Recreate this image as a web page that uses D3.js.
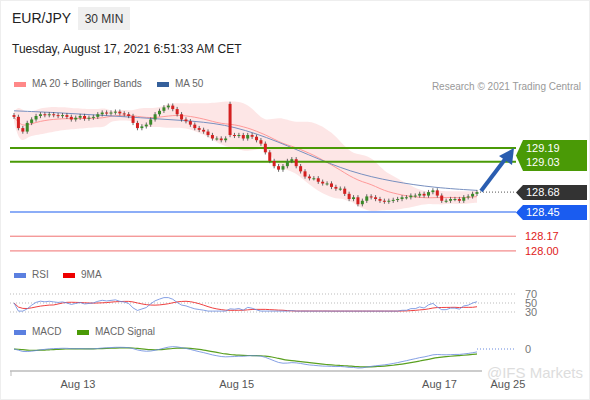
<!DOCTYPE html><html><head><meta charset="utf-8"><script src="https://d3js.org/d3.v7.min.js"></script>
<style>body{margin:0;background:#fff;font-family:"Liberation Sans",Arial,sans-serif}</style></head><body><svg id="c" width="590" height="400"></svg>
<script>
const closes=[129.55,129.42,129.38,129.48,129.52,129.56,129.58,129.57,
129.58,129.57,129.56,129.57,129.55,129.52,129.54,129.56,129.53,129.54,129.55,129.58,129.60,129.59,129.60,129.61,129.59,
129.58,129.56,129.48,129.42,129.44,129.46,
129.52,129.58,129.62,129.66,129.68,129.64,129.58,
129.52,129.50,129.46,129.42,129.40,129.38,129.34,129.30,129.30,129.28,129.30,
129.34,
129.33,129.34,129.30,129.34,129.32,129.28,129.24,129.14,
129.04,128.98,128.94,128.98,129.04,129.06,128.98,
128.92,128.86,128.84,128.84,128.80,128.78,128.78,128.74,128.72,128.72,128.66,128.60,128.62,128.54,
128.58,128.63,128.62,128.60,128.58,128.57,128.58,128.59,128.60,128.62,128.62,128.64,
128.64,128.66,128.64,128.68,128.70,128.64,128.58,
128.58,128.60,128.60,128.58,128.62,128.63,128.66,128.68];
const spikeIndex=49, spikeOpen=129.70;
const ma50=[129.62,129.60,129.57,129.54,129.51,129.47,129.32,129.11,128.91,128.80,128.73,128.70];
const levels=[{v:129.19,c:"#4a9a06",t:"129.19"},{v:129.03,c:"#4a9a06",t:"129.03"},{v:128.45,c:"#1a5cf0",t:"128.45"}];
const redLevels=[128.17,128.00];
const current=128.68;
const dateLabels=[{i:14.5,t:"Aug 13"},{i:50.5,t:"Aug 15"},{i:96.5,t:"Aug 17"},{i:112,t:"Aug 25"}];

const svg=d3.select("#c");
const N=closes.length;
const x=d3.scaleLinear().domain([0,N-1]).range([14,477]);
const y=d3.scaleLinear().domain([128.45,129.19]).range([212,148]);
// header
svg.append("text").attr("x",12).attr("y",23).attr("font-size",14).attr("fill","#222").text("EUR/JPY");
svg.append("rect").attr("x",78).attr("y",7).attr("width",52).attr("height",23).attr("fill","#efefef");
svg.append("text").attr("x",104).attr("y",23).attr("text-anchor","middle").attr("font-size",12).attr("fill","#333").text("30 MIN");
svg.append("text").attr("x",12).attr("y",53).attr("font-size",12).attr("fill","#222").text("Tuesday, August 17, 2021 6:51:33 AM CET");
function legend(xp,yp,col,t){svg.append("rect").attr("x",xp).attr("y",yp-4).attr("width",12).attr("height",5).attr("fill",col);
svg.append("text").attr("x",xp+18).attr("y",yp+1).attr("font-size",10).attr("fill","#666").text(t);}
legend(14,86,"#f88","MA 20 + Bollinger Bands");legend(157,86,"#35609b","MA 50");
svg.append("text").attr("x",581).attr("y",90).attr("text-anchor","end").attr("font-size",10).attr("fill","#999").text("Research © 2021 Trading Central");
// candles OHLC
const opens=closes.map((c,i)=>i==spikeIndex?spikeOpen:(i?closes[i-1]:c+0.02));
// bollinger
const bb=closes.map((c,i)=>{const w=closes.slice(Math.max(0,i-19),i+1);const m=d3.mean(w);const s=d3.deviation(w)||0.03;return{m,u:m+2*Math.max(s,0.03),l:m-2*Math.max(s,0.03)};});
svg.append("path").datum(bb).attr("fill","#fde0e0").attr("opacity",0.8)
 .attr("d",d3.area().x((d,i)=>x(i)).y0(d=>y(d.l)).y1(d=>y(d.u)).curve(d3.curveBasis));
svg.append("path").datum(bb).attr("fill","none").attr("stroke","#f99").attr("stroke-width",1)
 .attr("d",d3.line().x((d,i)=>x(i)).y(d=>y(d.m)).curve(d3.curveBasis));
svg.append("path").datum(ma50).attr("fill","none").attr("stroke","#7890c0").attr("stroke-width",1)
 .attr("d",d3.line().x((d,i)=>x(i*(N-1)/(ma50.length-1))).y(d=>y(d)).curve(d3.curveBasis));
// levels
levels.forEach(l=>svg.append("line").attr("x1",10).attr("x2",516).attr("y1",y(l.v)).attr("y2",y(l.v)).attr("stroke",l.c).attr("stroke-width",l.c=="#4a9a06"?2:1.2));
redLevels.forEach(v=>{svg.append("line").attr("x1",10).attr("x2",516).attr("y1",y(v)).attr("y2",y(v)).attr("stroke","#f07070").attr("stroke-width",1);
svg.append("text").attr("x",525).attr("y",y(v)+4).attr("font-size",11).attr("fill","#e02020").text(v.toFixed(2));});
const g=svg.append("g");
closes.forEach((c,i)=>{const o=opens[i];const hi=Math.max(o,c)+0.025,lo=Math.min(o,c)-0.025;const col=c>=o?"#3a8a2a":"#d42020";
 g.append("line").attr("x1",x(i)).attr("x2",x(i)).attr("y1",y(hi)).attr("y2",y(lo)).attr("stroke","#444").attr("stroke-width",0.8);
 g.append("rect").attr("x",x(i)-1.5).attr("width",3).attr("y",y(Math.max(o,c))).attr("height",Math.max(1,Math.abs(y(o)-y(c)))).attr("fill",col);});
svg.append("line").attr("x1",x(N-1)+3).attr("x2",516).attr("y1",y(current)).attr("y2",y(current)).attr("stroke","#555").attr("stroke-dasharray","1,2");
// label boxes
function tag(y1,y2,col){svg.append("path").attr("d",`M516,${(y1+y2)/2}L523,${y1}H587V${y2}H523Z`).attr("fill",col);}
tag(140,171,"#4a9a06");tag(185,200,"#333");tag(205,220,"#1a5cf0");
[[129.19],[129.03],[128.68],[128.45]].forEach(([v])=>svg.append("text").attr("x",526).attr("y",y(v)+4).attr("font-size",11).attr("fill","#fff").text(v.toFixed(2)));
// arrow
svg.append("line").attr("x1",481).attr("y1",191).attr("x2",506).attr("y2",158).attr("stroke","#2a5db0").attr("stroke-width",4);
svg.append("path").attr("d","M514,148L512,165L499,156Z").attr("fill","#2a5db0");
// RSI
let rsi=[],ag=0,al=0;closes.forEach((c,i)=>{if(i==0){rsi.push(50);return;}const d=c-closes[i-1];const gn=Math.max(d,0),ls=Math.max(-d,0);
 ag=i<14?(ag*(i-1)+gn)/i:(ag*13+gn)/14;al=i<14?(al*(i-1)+ls)/i:(al*13+ls)/14;rsi.push(al==0?60:100-100/(1+ag/al));});
rsi=rsi.map(v=>Math.max(32,Math.min(62,v)));
const rsiMA=rsi.map((v,i)=>d3.mean(rsi.slice(Math.max(0,i-8),i+1)));
const yr=d3.scaleLinear().domain([30,70]).range([312,294]);
legend(14,277,"#5b80e0","RSI");legend(63,277,"#e00","9MA");
[70,50,30].forEach(v=>{svg.append("line").attr("x1",10).attr("x2",516).attr("y1",yr(v)).attr("y2",yr(v)).attr("stroke","#bbb").attr("stroke-dasharray","1,2");
svg.append("text").attr("x",525).attr("y",yr(v)+4).attr("font-size",11).attr("fill","#777").text(v);});
svg.append("path").datum(rsiMA).attr("fill","none").attr("stroke","#f04040").attr("d",d3.line().x((d,i)=>x(i)).y(d=>yr(d)));
svg.append("path").datum(rsi).attr("fill","none").attr("stroke","#6688dd").attr("stroke-width",0.8).attr("d",d3.line().x((d,i)=>x(i)).y(d=>yr(d)));
// MACD
const ema=(a,n)=>{const k=2/(n+1);let e=a[0];return a.map(v=>e=v*k+e*(1-k));};
const e12=ema(closes,12),e26=ema(closes,26);const macd=closes.map((c,i)=>e12[i]-e26[i]);const sig=ema(macd,9);
const ym=d3.scaleLinear().domain([0,d3.min(macd)]).range([349,368]);
legend(14,334,"#5b80e0","MACD");legend(77,334,"#4a9a06","MACD Signal");
svg.append("line").attr("x1",x(N-1)).attr("x2",516).attr("y1",349).attr("y2",349).attr("stroke","#6688dd").attr("stroke-dasharray","1,2");
svg.append("text").attr("x",525).attr("y",353).attr("font-size",11).attr("fill","#777").text("0");
svg.append("path").datum(sig).attr("fill","none").attr("stroke","#5aa020").attr("stroke-width",1.2).attr("d",d3.line().x((d,i)=>x(i)).y(d=>ym(d)).curve(d3.curveBasis));
svg.append("path").datum(macd).attr("fill","none").attr("stroke","#6688dd").attr("stroke-width",0.8).attr("d",d3.line().x((d,i)=>x(i)).y(d=>ym(d)));
// x axis
svg.append("line").attr("x1",10).attr("x2",482).attr("y1",371).attr("y2",371).attr("stroke","#bbb").attr("stroke-width",1.5);
svg.append("line").attr("x1",11).attr("x2",11).attr("y1",371).attr("y2",376).attr("stroke","#bbb");
dateLabels.forEach(d=>svg.append("text").attr("x",x(d.i)).attr("y",388).attr("text-anchor","middle").attr("font-size",11).attr("fill","#555").text(d.t));
svg.append("text").attr("x",583).attr("y",378).attr("text-anchor","end").attr("font-size",15).attr("fill","#ddd").text("@IFS Markets");
svg.append("rect").attr("x",0.5).attr("y",0.5).attr("width",589).attr("height",399).attr("fill","none").attr("stroke","#eee");
</script></body></html>
